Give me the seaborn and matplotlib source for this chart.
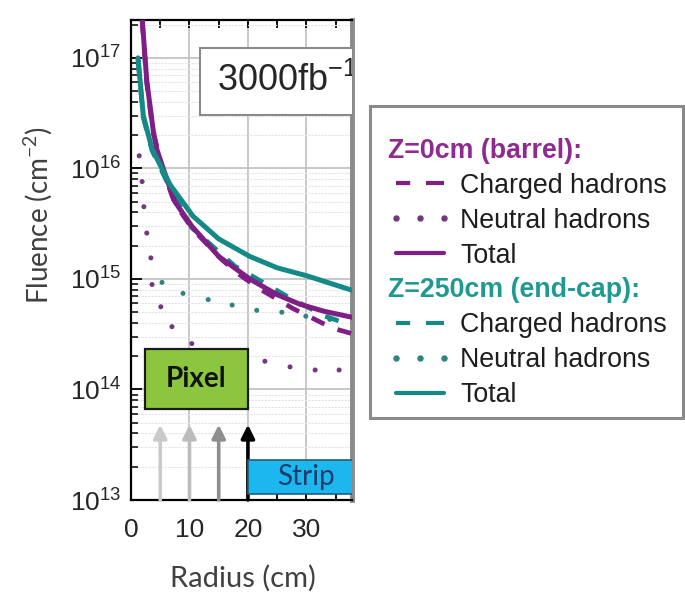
import numpy as np
import pandas as pd
import matplotlib
matplotlib.use("Agg")
import matplotlib.pyplot as plt
import seaborn as sns
from matplotlib.lines import Line2D
from matplotlib.patches import Rectangle
from matplotlib.ticker import LogLocator, MultipleLocator, NullFormatter, LogFormatterSciNotation

# ---------------- data ----------------
barrel_total_r = [1.7, 1.9, 2.7, 3.8, 4.4, 5.5, 7.5, 10.4, 15.0, 20.3, 25.0, 28.9, 33.0, 37.8]
barrel_total = [4.0e17, 2.3e17, 6.2e16, 2.2e16, 1.5e16, 1.0e16, 5.0e15, 3.0e15, 1.6e15,
                1.0e15, 7.2e14, 5.9e14, 5.1e14, 4.5e14]

barrel_charged_r = [1.9, 2.7, 3.8, 5.5, 7.5, 10.6, 15.5, 18.5, 21.7, 27.7, 34.4, 37.8]
barrel_charged = [2.2e17, 5.9e16, 2.1e16, 9.5e15, 4.8e15, 2.8e15, 1.5e15, 1.1e15, 8.3e14,
                  5.4e14, 3.6e14, 3.2e14]

barrel_neutral_r = [1.4, 1.9, 2.2, 2.7, 3.4, 3.6, 5.1, 7.0, 10.4, 14.5, 18.5, 22.9, 27.2, 31.5, 35.6]
barrel_neutral = [1.3e16, 7.6e15, 4.5e15, 2.6e15, 1.55e15, 8.9e14, 5.6e14, 3.7e14, 2.6e14,
                  2.1e14, 1.9e14, 1.8e14, 1.6e14, 1.5e14, 1.5e14]

endcap_total_r = [1.2, 2.1, 3.6, 6.7, 10.6, 15.0, 20.3, 25.0, 30.0, 37.8]
endcap_total = [1.0e17, 3.0e16, 1.5e16, 7.1e15, 3.7e15, 2.3e15, 1.6e15, 1.26e15, 1.07e15, 7.9e14]

endcap_charged_r = [1.2, 2.1, 3.6, 6.7, 10.4, 17.8, 20.2, 26.8, 33.2, 37.8]
endcap_charged = [9.6e16, 2.9e16, 1.45e16, 6.6e15, 2.9e15, 1.3e15, 1.1e15, 6.9e14, 4.6e14, 3.8e14]

endcap_neutral_r = [5.3, 8.9, 13.2, 17.3, 21.5, 25.8, 29.9, 34.0]
endcap_neutral = [9.3e14, 7.4e14, 6.5e14, 5.8e14, 5.2e14, 5.0e14, 4.6e14, 4.3e14]

arrow_r = [5, 10, 15, 20]
arrow_colors = ["#cacaca", "#bcbcbc", "#8e8e8e", "#000000"]
x_ticks = [0, 10, 20, 30]

legend_labels = ["Z=0cm (barrel):", "Charged hadrons", "Neutral hadrons", "Total",
                 "Z=250cm (end-cap):", "Charged hadrons", "Neutral hadrons", "Total"]

# ---------------- style ----------------
sns.set_theme(style="white")
plt.rcParams["font.family"] = ["Liberation Sans", "DejaVu Sans"]
plt.rcParams["mathtext.fontset"] = "custom"
plt.rcParams["mathtext.rm"] = "Liberation Sans"

PURPLE = "#7f1f86"
TEAL = "#138a85"
PURPLE_DOT = "#74387f"
TEAL_DOT = "#2f8480"
PURPLE_HEAD = "#8e2a90"
TEAL_HEAD = "#1f9a92"

W, H = 685, 607
fig = plt.figure(figsize=(W / 100, H / 100), dpi=100)
ax = fig.add_axes([131 / W, 1 - 500 / H, 221 / W, 480 / H])

# ---------------- grid ----------------
ax.set_yscale("log")
ax.set_xlim(0, 37.8)
ax.set_ylim(1e13, 2.2e17)
ax.grid(which="major", axis="both", color="#c4c4c4", lw=1.3, zorder=0)
ax.yaxis.set_minor_locator(LogLocator(base=10, subs=np.arange(2, 10), numticks=20))
ax.grid(which="minor", axis="y", color="#e4e4e4", lw=0.8, ls=(0, (2, 1)), zorder=0)
ax.set_axisbelow(True)

# ---------------- curves ----------------
sns.scatterplot(x=barrel_neutral_r, y=barrel_neutral, ax=ax, color=PURPLE_DOT, s=13,
                edgecolor="none", zorder=2, legend=False)
sns.scatterplot(x=endcap_neutral_r, y=endcap_neutral, ax=ax, color=TEAL_DOT, s=13,
                edgecolor="none", zorder=2, legend=False)

sns.lineplot(x=endcap_charged_r, y=endcap_charged, ax=ax, color=TEAL, lw=3.4, zorder=3,
             legend=False)
ax.lines[-1].set_linestyle((0, (3, 3)))
sns.lineplot(x=barrel_charged_r, y=barrel_charged, ax=ax, color=PURPLE, lw=3.4, zorder=3,
             legend=False)
ax.lines[-1].set_linestyle((0, (3, 3)))
sns.lineplot(x=barrel_total_r, y=barrel_total, ax=ax, color=PURPLE, lw=3.6, zorder=4,
             legend=False)
sns.lineplot(x=endcap_total_r, y=endcap_total, ax=ax, color=TEAL, lw=3.6, zorder=5,
             legend=False)

# ---------------- annotations ----------------
# luminosity box
ax.add_patch(Rectangle((0.312, 0.802), 0.8, 0.14, transform=ax.transAxes, facecolor="white",
                       edgecolor="#8a8a8a", lw=1.5, zorder=8, clip_on=True))
ax.text(0.389, 0.873, r"3000fb$^{\mathdefault{-1}}$", transform=ax.transAxes, fontsize=26,
        color="#262626", ha="left", va="center", zorder=9, clip_on=True)

# Pixel box
ax.add_patch(Rectangle((2.4, 6.6e13), 20 - 2.4, 2.3e14 - 6.6e13, facecolor="#8cc63f",
                       edgecolor="#1a1a1a", lw=1.6, zorder=8))
ax.text((2.4 + 20) / 2, 1.25e14, "Pixel", fontsize=20, fontweight="bold", family="Lato",
        color="#111111", ha="center", va="center", zorder=9)

# Strip box
ax.add_patch(Rectangle((20, 1.13e13), 30, 2.3e13 - 1.13e13, facecolor="#1ab8ee",
                       edgecolor="#2a5a7a", lw=1.2, zorder=8, clip_on=True))
ax.text(25, 1.6e13, "Strip", fontsize=20, family="Lato", color="#1f3b6a", ha="left",
        va="center", zorder=9, clip_on=True)

# layer arrows
for r, c in zip(arrow_r, arrow_colors):
    ax.annotate("", xy=(r, 4.8e13), xytext=(r, 1e13),
                arrowprops=dict(arrowstyle="-|>", color=c, lw=2.6, mutation_scale=20,
                                shrinkA=0, shrinkB=0), zorder=7)

# ---------------- axes styling ----------------
ax.xaxis.set_major_locator(plt.FixedLocator(x_ticks))
ax.xaxis.set_minor_locator(MultipleLocator(5))
ax.yaxis.set_major_locator(LogLocator(base=10, numticks=10))
ax.yaxis.set_major_formatter(LogFormatterSciNotation())
ax.yaxis.set_minor_formatter(NullFormatter())
ax.tick_params(axis="both", which="both", direction="in", color="black")
ax.tick_params(axis="x", which="both", top=True, bottom=True)
ax.tick_params(axis="y", which="both", left=True, right=False)
ax.tick_params(axis="y", which="major", length=8, width=1.3, pad=7, labelsize=19,
               labelcolor="#262626")
ax.tick_params(axis="y", which="minor", length=5, width=1.1)
ax.tick_params(axis="x", which="major", length=6, width=1.3, pad=13, labelsize=19,
               labelcolor="#262626")
ax.tick_params(axis="x", which="minor", length=6, width=1.3)
for s in ["left", "top", "bottom"]:
    ax.spines[s].set_color("black")
    ax.spines[s].set_linewidth(1.6)
ax.spines["right"].set_color("#8a8a8a")
ax.spines["right"].set_linewidth(3.5)

ax.set_xlabel("Radius (cm)", fontsize=21, family="Lato", color="#404040")
ax.xaxis.set_label_coords(0.507, -0.135)
ax.set_ylabel(r"Fluence (cm$^{\mathdefault{-2}}$)", fontsize=20, family="Lato", color="#404040")
ax.yaxis.set_label_coords(-0.344, 0.594)

# ---------------- legend ----------------
blank = Line2D([], [], linestyle="none", marker=None)
handles = [
    blank,
    Line2D([], [], color=PURPLE, lw=3, dashes=(3.4, 3.8, 8, 2)),
    Line2D([], [], color=PURPLE_DOT, ls="none", marker="o", ms=3.6),
    Line2D([], [], color=PURPLE, lw=3),
    blank,
    Line2D([], [], color=TEAL, lw=3, dashes=(3.4, 3.8, 8, 2)),
    Line2D([], [], color=TEAL_DOT, ls="none", marker="o", ms=3.6),
    Line2D([], [], color=TEAL, lw=3),
]
leg = fig.legend(handles, legend_labels, loc="upper left",
                 bbox_to_anchor=(388 / W, 1 - 138 / H), frameon=False, fontsize=19.3,
                 handlelength=2.4, handletextpad=0.3, labelspacing=0.33, borderpad=0,
                 borderaxespad=0, numpoints=3)
header_idx = {0: PURPLE_HEAD, 4: TEAL_HEAD}
for i, t in enumerate(leg.get_texts()):
    if i in header_idx:
        t.set_color(header_idx[i])
        t.set_fontweight("bold")
    else:
        t.set_color("#1e1e1e")
# headers start at the handle position
rows = []
for col in leg._legend_handle_box.get_children():
    rows.extend(col.get_children())
for i, row in enumerate(rows):
    if i in header_idx:
        h = row.get_children()[0]
        h.width = 0
        row.sep = 0

fig.add_artist(Rectangle((370 / W, 1 - 418 / H), 313 / W, 312 / H, transform=fig.transFigure,
                         fill=False, edgecolor="#8a8a8a", lw=2.2))

fig.savefig("out.png", dpi=100, facecolor="white")
